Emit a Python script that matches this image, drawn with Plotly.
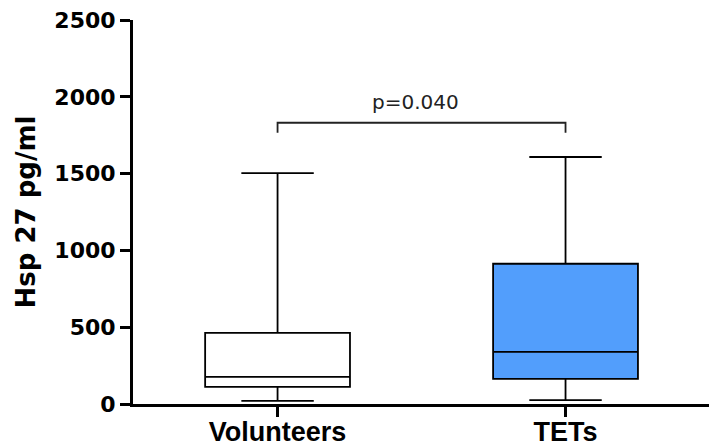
import plotly.graph_objects as go

categories = ["Volunteers", "TETs"]
q1_vals = [111, 163]
median_vals = [176, 339]
q3_vals = [463, 913]
low_vals = [20, 25]
high_vals = [1503, 1608]
fill_colors = ["white", "#529EFC"]
y_ticks = [0, 500, 1000, 1500, 2000, 2500]
bracket_y = 1831
bracket_drop = 1766
p_label = "p=0.040"
p_label_y = 1968

fig = go.Figure()
for i, cat in enumerate(categories):
    fig.add_trace(go.Box(
        x=[cat], q1=[q1_vals[i]], median=[median_vals[i]], q3=[q3_vals[i]],
        lowerfence=[low_vals[i]], upperfence=[high_vals[i]],
        fillcolor=fill_colors[i], line=dict(color="black", width=1.8),
        width=0.503, whiskerwidth=0.5, boxpoints=False, showlegend=False,
        hoverinfo="skip",
    ))

# significance bracket
fig.add_shape(type="path", xref="x", yref="y",
              path=f"M 0,{bracket_drop} L 0,{bracket_y} L 1,{bracket_y} L 1,{bracket_drop}",
              line=dict(color="#222222", width=1.8))
fig.add_annotation(x=0.48, y=p_label_y, xref="x", yref="y", text=p_label,
                   showarrow=False, font=dict(family="DejaVu Sans", size=20, color="#222222"))

# the page body has an 8px margin, so the figure is sized/offset to compensate
fig.update_layout(
    width=709, height=439,
    margin=dict(l=125, r=0, t=12, b=43),
    paper_bgcolor="white", plot_bgcolor="white",
    font=dict(family="DejaVu Sans", color="black"),
)
fig.update_xaxes(
    type="category", categoryorder="array", categoryarray=categories,
    range=[-0.502, 1.526], showline=True, linecolor="black", linewidth=3,
    ticks="outside", ticklen=10, tickwidth=3, tickcolor="black",
    showgrid=False, zeroline=False, automargin=False,
    ticklabelstandoff=-8, ticklabeloverflow="allow",
    tickfont=dict(size=27, family="Liberation Sans, Arial", weight="bold"),
)
fig.update_yaxes(
    range=[0, 2500], tickvals=y_ticks, ticktext=[str(v) for v in y_ticks],
    showline=True, linecolor="black", linewidth=3,
    ticks="outside", ticklen=10, tickwidth=3, tickcolor="black",
    showgrid=False, zeroline=False, automargin=False,
    ticklabeloverflow="allow",
    tickfont=dict(size=22, family="DejaVu Sans", weight="bold"),
    title=dict(text="<b>Hsp 27 pg/ml</b>", font=dict(size=26, family="DejaVu Sans"), standoff=12),
)
fig.write_html("out.html")
